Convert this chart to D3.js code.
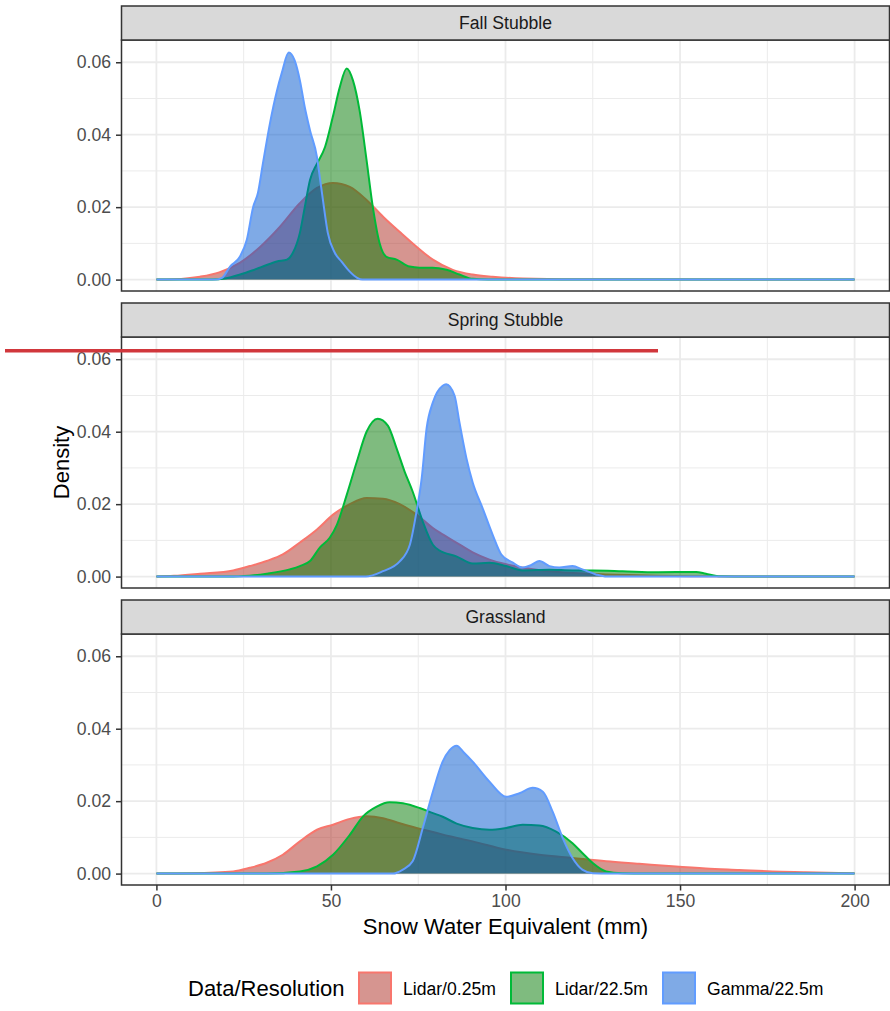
<!DOCTYPE html>
<html>
<head>
<meta charset="utf-8">
<script src="https://cdn.jsdelivr.net/npm/d3@7"></script>
<style>
  body { margin: 0; background: #fff; }
  svg { display: block; }
  text { font-family: "Liberation Sans", Arial, Helvetica, sans-serif; }
</style>
</head>
<body>
<svg id="chart" width="890" height="1011"></svg>
<script>
// ---- data ----
const facets = ["Fall Stubble", "Spring Stubble", "Grassland"];
const seriesNames = ["Lidar/0.25m", "Lidar/22.5m", "Gamma/22.5m"];
const xTicks = [0, 50, 100, 150, 200];
const yTicks = [0, 0.02, 0.04, 0.06];

// [SWE (mm), density]
const fallLidar025 = [[0,0],[5,0.0001],[12.5,0.0008],[18,0.002],[24,0.0047],[29.7,0.009],[35.4,0.0146],[41,0.021],[46,0.0253],[50.6,0.0267],[55.4,0.0256],[60.2,0.022],[65,0.0173],[70,0.0129],[74.6,0.009],[79.2,0.0055],[84.9,0.0027],[90.6,0.0014],[96.3,0.0008],[105,0.0003],[120,0.0001],[200,0]];
const fallLidar225 = [[0,0],[16,0],[19.6,0.0003],[24,0.0014],[27.4,0.0025],[30.5,0.0036],[34.5,0.005],[37.4,0.0055],[39.1,0.0074],[41.1,0.0129],[42.5,0.02],[44,0.0275],[46,0.032],[48.3,0.0366],[50.5,0.0448],[52.5,0.053],[54.5,0.0583],[56.3,0.055],[58.2,0.0467],[60.2,0.033],[62,0.02],[63.9,0.0102],[65.9,0.0063],[68.8,0.0055],[72.5,0.0036],[75.4,0.0033],[79.1,0.0033],[83.1,0.0027],[86.8,0.0014],[90.6,0.0002],[95,0],[200,0]];
const fallGamma225 = [[0,0],[16.8,0],[18.8,0.0005],[21.1,0.0036],[23.9,0.0063],[25.9,0.011],[27.7,0.02],[29.1,0.024],[30.5,0.032],[32.5,0.043],[34.5,0.052],[35.9,0.057],[37.9,0.0627],[39.6,0.0605],[41.1,0.055],[42.5,0.0476],[44,0.0412],[46,0.0338],[46.8,0.0283],[47.7,0.022],[49.1,0.0129],[51.1,0.0074],[53.1,0.0049],[55.4,0.0022],[57.5,0.0005],[59,0],[200,0]];

const springLidar025 = [[0,0],[5,0.0002],[12.5,0.0008],[22,0.0017],[26.8,0.0029],[31.6,0.0043],[36.2,0.0061],[41.1,0.0094],[46,0.013],[50.6,0.0171],[55.4,0.02],[60.2,0.0217],[64.9,0.0215],[69.7,0.02],[74.5,0.0171],[79.1,0.0135],[81.1,0.0122],[85.9,0.0094],[90.6,0.0067],[95.4,0.0047],[100.2,0.0034],[106,0.0023],[112.6,0.0015],[124,0.0008],[138,0.0004],[157,0.0001],[200,0]];
const springLidar225 = [[0,0],[22,0],[31.6,0.0008],[38.2,0.002],[41.1,0.0029],[44,0.0043],[46.8,0.008],[49.7,0.0108],[51.7,0.0143],[54.5,0.0225],[57.4,0.0317],[60.2,0.04],[63.4,0.0436],[66.3,0.0417],[68.8,0.0354],[71.1,0.029],[73.4,0.0235],[76.3,0.0152],[79.2,0.0088],[81.1,0.0072],[85.9,0.0056],[90.6,0.0036],[95.4,0.0038],[100.2,0.0029],[104.9,0.0017],[112.6,0.0019],[119.2,0.0017],[125,0.0017],[133.5,0.0015],[143.2,0.0012],[154.6,0.0013],[157.4,0.0008],[161,0.0001],[170,0],[200,0]];
const springGamma225 = [[0,0],[60,0],[64.9,0.0015],[69.7,0.0042],[72.6,0.0088],[74.5,0.0179],[76,0.0272],[77.4,0.0409],[79.2,0.0481],[82,0.0527],[83,0.0531],[85.4,0.05],[86.8,0.0426],[88.8,0.0327],[90.6,0.026],[93.4,0.019],[96.3,0.0116],[98.8,0.0061],[102,0.0039],[104.9,0.0025],[107.4,0.0032],[109.7,0.0043],[112.6,0.0029],[115.4,0.0025],[119.2,0.0029],[122,0.002],[125.9,0.0006],[129,0],[200,0]];

const grassLidar025 = [[0,0],[10,0.0001],[22,0.0006],[26.8,0.0016],[31.6,0.003],[36.2,0.0052],[41.1,0.0089],[46,0.0121],[50.6,0.0135],[55.4,0.0151],[60.2,0.0158],[64.9,0.0153],[69.7,0.0139],[74.5,0.0126],[79.2,0.0115],[84,0.0103],[90.6,0.0089],[100.2,0.0066],[109.7,0.0052],[119.2,0.0043],[128.8,0.0034],[138.3,0.0027],[147.8,0.002],[157.4,0.0014],[167,0.001],[176.4,0.0006],[186,0.0004],[200,0.0001]];
const grassLidar225 = [[0,0],[31.6,0],[41.1,0.0006],[46,0.002],[50.6,0.0052],[55.4,0.0107],[59.2,0.0158],[63.1,0.0185],[66.8,0.0197],[70.6,0.0194],[75.4,0.0181],[79.2,0.0167],[82,0.0157],[86,0.0138],[90.6,0.0126],[95.4,0.0121],[100.2,0.0126],[104.9,0.0135],[109.7,0.0133],[114.5,0.0116],[119.2,0.0084],[122,0.0057],[125,0.0029],[128.8,0.0006],[133.5,0.0001],[140,0],[200,0]];
const grassGamma225 = [[0,0],[67.8,0],[70.6,0.0011],[73.4,0.0034],[76.3,0.0126],[79.2,0.0226],[82,0.0309],[84,0.0341],[86,0.0353],[88,0.0335],[90.6,0.0309],[95.4,0.0254],[100.2,0.0212],[104,0.0222],[107.8,0.0237],[110.7,0.0226],[113.5,0.0171],[116.4,0.0098],[119.2,0.0043],[122,0.0011],[125,0.0001],[130,0],[200,0]];

const panelData = [
  [fallLidar025, fallLidar225, fallGamma225],
  [springLidar025, springLidar225, springGamma225],
  [grassLidar025, grassLidar225, grassGamma225]
];

// ---- styles ----
const lineColors = ["#F8766D", "#00BA38", "#619CFF"];
const fillColors = ["#AD2B22", "#007700", "#0055CD"];

const svg = d3.select("#chart");
const left = 121.5, right = 889.5;
const stripTop = 6, stripH = 34, panelH = 251, step = 297;

const x = d3.scaleLinear().domain([-10, 210]).range([left, right]);

const area = d3.area().curve(d3.curveMonotoneX);
const line = d3.line().curve(d3.curveMonotoneX);

facets.forEach((name, i) => {
  const top = stripTop + i * step + stripH;
  const bottom = top + panelH;
  const y = d3.scaleLinear().domain([-0.00315, 0.06615]).range([bottom, top]);
  const g = svg.append("g");

  g.append("rect").attr("x", left).attr("y", top).attr("width", right - left)
    .attr("height", panelH).attr("fill", "#fff");

  // minor grid
  g.selectAll(".xmin").data([25, 75, 125, 175]).enter().append("line")
    .attr("x1", d => x(d)).attr("x2", d => x(d)).attr("y1", top).attr("y2", bottom)
    .attr("stroke", "#EBEBEB").attr("stroke-width", 1);
  g.selectAll(".ymin").data([0.01, 0.03, 0.05]).enter().append("line")
    .attr("x1", left).attr("x2", right).attr("y1", d => y(d)).attr("y2", d => y(d))
    .attr("stroke", "#EBEBEB").attr("stroke-width", 1);
  // major grid
  g.selectAll(".xmaj").data(xTicks).enter().append("line")
    .attr("x1", d => x(d)).attr("x2", d => x(d)).attr("y1", top).attr("y2", bottom)
    .attr("stroke", "#EBEBEB").attr("stroke-width", 1.8);
  g.selectAll(".ymaj").data(yTicks).enter().append("line")
    .attr("x1", left).attr("x2", right).attr("y1", d => y(d)).attr("y2", d => y(d))
    .attr("stroke", "#EBEBEB").attr("stroke-width", 1.8);

  area.x(d => x(d[0])).y0(y(0)).y1(d => y(d[1]));
  line.x(d => x(d[0])).y(d => y(d[1]));

  panelData[i].forEach((pts, k) => {
    g.append("path").attr("d", area(pts))
      .attr("fill", fillColors[k]).attr("fill-opacity", 0.5);
    g.append("path").attr("d", line(pts))
      .attr("fill", "none").attr("stroke", lineColors[k]).attr("stroke-width", 2)
      .attr("stroke-linejoin", "round");
  });

  // panel border
  g.append("rect").attr("x", left).attr("y", top).attr("width", right - left)
    .attr("height", panelH).attr("fill", "none").attr("stroke", "#333").attr("stroke-width", 1.5);

  // strip
  g.append("rect").attr("x", left).attr("y", top - stripH).attr("width", right - left)
    .attr("height", stripH).attr("fill", "#D9D9D9").attr("stroke", "#333").attr("stroke-width", 1.5);
  g.append("text").attr("x", (left + right) / 2).attr("y", top - stripH / 2)
    .attr("dy", "0.35em").attr("text-anchor", "middle")
    .attr("font-size", 17.6).attr("fill", "#1A1A1A").text(name);

  // y axis
  const ya = g.append("g").attr("transform", `translate(${left},0)`)
    .call(d3.axisLeft(y).tickValues(yTicks).tickFormat(d3.format(".2f")).tickSize(5.5).tickPadding(5));
  ya.select(".domain").remove();
  ya.selectAll("line").attr("stroke", "#333").attr("stroke-width", 1.5);
  ya.selectAll("text").attr("font-size", 17.6).attr("fill", "#4D4D4D")
    .attr("font-family", "Liberation Sans, Arial, sans-serif");

  if (i === facets.length - 1) {
    const xa = g.append("g").attr("transform", `translate(0,${bottom})`)
      .call(d3.axisBottom(x).tickValues(xTicks).tickSize(5.5).tickPadding(4));
    xa.select(".domain").remove();
    xa.selectAll("line").attr("stroke", "#333").attr("stroke-width", 1.5);
    xa.selectAll("text").attr("font-size", 17.6).attr("fill", "#4D4D4D")
      .attr("font-family", "Liberation Sans, Arial, sans-serif");
  }
});

// axis titles
svg.append("text").attr("x", (left + right) / 2).attr("y", 933.5)
  .attr("text-anchor", "middle").attr("font-size", 22).attr("fill", "#000")
  .text("Snow Water Equivalent (mm)");
svg.append("text").attr("transform", "translate(68.5,462.5) rotate(-90)")
  .attr("text-anchor", "middle").attr("font-size", 22).attr("fill", "#000")
  .text("Density");

// legend
const legend = svg.append("g");
legend.append("text").attr("x", 188).attr("y", 996).attr("font-size", 22)
  .attr("fill", "#000").text("Data/Resolution");
const keyX = [358, 510, 662];
seriesNames.forEach((s, k) => {
  legend.append("rect").attr("x", keyX[k] + 1).attr("y", 972.5).attr("width", 32).attr("height", 31)
    .attr("fill", fillColors[k]).attr("fill-opacity", 0.5)
    .attr("stroke", lineColors[k]).attr("stroke-width", 2);
  legend.append("text").attr("x", keyX[k] + 45).attr("y", 995)
    .attr("font-size", 17.6).attr("fill", "#000").text(s);
});

// red annotation stroke over the figure
svg.append("line").attr("x1", 5).attr("x2", 658).attr("y1", 350.8).attr("y2", 350.8)
  .attr("stroke", "#D1373C").attr("stroke-width", 3.5);
</script>
</body>
</html>
